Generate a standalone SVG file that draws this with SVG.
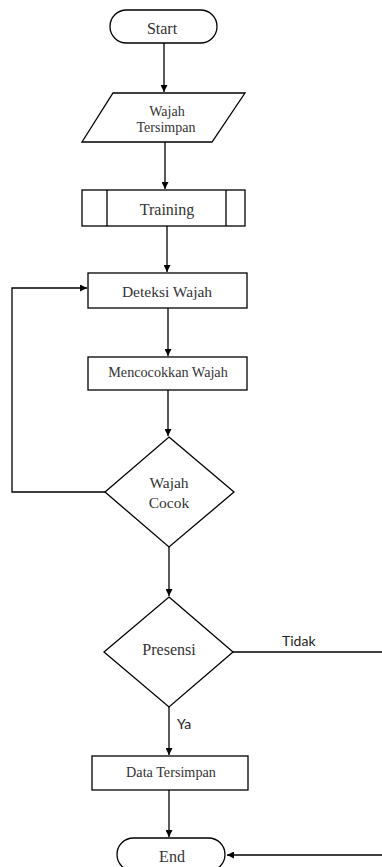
<svg xmlns="http://www.w3.org/2000/svg" width="382" height="867" viewBox="0 0 382 867">
<style>
.s{fill:#fff;stroke:#000;stroke-width:1.3}
.c{fill:none;stroke:#000;stroke-width:1.3}
.t{font-family:"Liberation Serif","Times New Roman",serif;fill:#333;text-anchor:middle}
.l{font-family:Lato,"Open Sans",sans-serif;fill:#222;font-size:14px}
</style>
<defs>
<marker id="a" viewBox="0 0 10 10" refX="10" refY="5" markerWidth="7" markerHeight="7" orient="auto" markerUnits="userSpaceOnUse">
<path d="M0,0L10,5L0,10z" fill="#000"/>
</marker>
</defs>
<rect width="382" height="867" fill="#fff"/>
<g id="connectors">
<path class="c" d="M164,43V92" marker-end="url(#a)"/>
<path class="c" d="M165,142V189" marker-end="url(#a)"/>
<path class="c" d="M167,226V272" marker-end="url(#a)"/>
<path class="c" d="M168,308V356" marker-end="url(#a)"/>
<path class="c" d="M168,390V436" marker-end="url(#a)"/>
<path class="c" d="M105,492H12V288H87" marker-end="url(#a)"/>
<path class="c" d="M169,547V596" marker-end="url(#a)"/>
<path class="c" d="M233,652H382"/>
<path class="c" d="M169,707V755" marker-end="url(#a)"/>
<path class="c" d="M169,790V837" marker-end="url(#a)"/>
<path class="c" d="M382,855H227" marker-end="url(#a)"/>
<text class="l" x="282" y="646">Tidak</text>
<text class="l" x="177" y="729">Ya</text>
</g>
<g id="start">
<rect class="s" x="110" y="10" width="107" height="33" rx="16.5"/>
<text class="t" x="162" y="34" font-size="16">Start</text>
</g>
<g id="wajah-tersimpan">
<polygon class="s" points="113,93 245,93 212,142 82,142"/>
<text class="t" x="167" y="116" font-size="14">Wajah</text>
<text class="t" x="166" y="132" font-size="14">Tersimpan</text>
</g>
<g id="training">
<rect class="s" x="82" y="190" width="163" height="36"/>
<path class="c" d="M107,190V226M226,190V226"/>
<text class="t" x="167" y="215" font-size="16">Training</text>
</g>
<g id="deteksi">
<rect class="s" x="88" y="273" width="159" height="35"/>
<text class="t" x="167" y="297" font-size="15.5">Deteksi Wajah</text>
</g>
<g id="mencocokkan">
<rect class="s" x="88" y="357" width="159" height="33"/>
<text class="t" x="168" y="377" font-size="14.2">Mencocokkan Wajah</text>
</g>
<g id="wajah-cocok">
<polygon class="s" points="169,437 234,492 169,547 105,492"/>
<text class="t" x="169" y="488" font-size="15.5">Wajah</text>
<text class="t" x="169" y="508" font-size="15.5">Cocok</text>
</g>
<g id="presensi">
<polygon class="s" points="169,597 233,652 169,707 104,652"/>
<text class="t" x="169" y="655" font-size="16">Presensi</text>
</g>
<g id="data-tersimpan">
<rect class="s" x="92" y="756" width="156" height="34"/>
<text class="t" x="171" y="777" font-size="14.2">Data Tersimpan</text>
</g>
<g id="end">
<rect class="s" x="117" y="838" width="108" height="33" rx="16.5"/>
<text class="t" x="172" y="862" font-size="16">End</text>
</g>
</svg>
